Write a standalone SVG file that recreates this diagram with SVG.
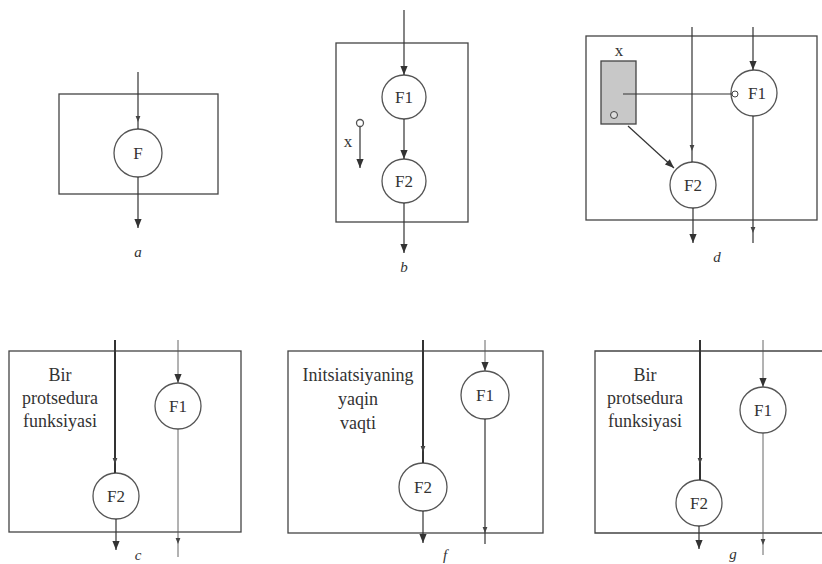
<svg xmlns="http://www.w3.org/2000/svg" width="822" height="564" viewBox="0 0 822 564">
<defs>
<marker id="big" viewBox="0 0 10 10" refX="10" refY="5" markerWidth="11" markerHeight="9" markerUnits="userSpaceOnUse" orient="auto"><path d="M0,1 L10,5 L0,9 Z" fill="#333"/></marker>
<marker id="sm" viewBox="0 0 10 10" refX="10" refY="5" markerWidth="6" markerHeight="6" markerUnits="userSpaceOnUse" orient="auto"><path d="M0,1 L10,5 L0,9 Z" fill="#444"/></marker>
</defs>
<style>
.box{fill:none;stroke:#444;stroke-width:1.3}
.nd{fill:#fff;stroke:#555;stroke-width:1.3}
.ln{fill:none;stroke:#333;stroke-width:1.2}
.thk{fill:none;stroke:#333;stroke-width:2}
.thin{fill:none;stroke:#555;stroke-width:0.9}
.t{font-family:'Liberation Serif','Times New Roman','DejaVu Serif',serif;font-size:18px;fill:#333;text-anchor:middle}
.f{font-family:'Liberation Serif','Times New Roman','DejaVu Serif',serif;font-size:17px;fill:#333;text-anchor:middle}
.lbl{font-family:'Liberation Serif','Times New Roman','DejaVu Serif',serif;font-size:15px;font-style:italic;fill:#333;text-anchor:middle}
.big{marker-end:url(#big)}
.sme{marker-end:url(#sm)}
.smm{marker-mid:url(#sm)}
</style>
<rect width="822" height="564" fill="#fff"/>

<g id="panel-a">
<rect class="box" x="59" y="94" width="159" height="100"/>
<g id="a-F"><circle class="nd" cx="138" cy="153" r="24"/><text class="f" x="138" y="159" font-size="18">F</text></g>
<text class="lbl" x="138" y="257">a</text>
</g>

<g id="panel-b">
<rect class="box" x="336" y="43" width="132" height="179"/>
<g id="b-F1"><circle class="nd" cx="404" cy="97" r="22"/><text class="f" x="404" y="103">F1</text></g>
<g id="b-F2"><circle class="nd" cx="404" cy="181" r="22"/><text class="f" x="404" y="187">F2</text></g>
<g id="b-x"><circle class="nd" cx="360" cy="123" r="3.5"/><text class="f" x="348" y="147">x</text></g>
<text class="lbl" x="404" y="272">b</text>
</g>

<g id="panel-d">
<rect class="box" x="586" y="36" width="231" height="184"/>
<g id="d-x"><rect x="601" y="61" width="35" height="63" fill="#c8c8c8" stroke="#444" stroke-width="1.3"/><circle cx="614" cy="115" r="3.5" fill="#ddd" stroke="#444" stroke-width="1"/><text class="f" x="619" y="56">x</text></g>
<g id="d-F1"><circle class="nd" cx="754" cy="93" r="23"/><text class="f" x="757" y="99">F1</text><circle cx="735" cy="94" r="3" fill="#fff" stroke="#444" stroke-width="1"/></g>
<g id="d-F2"><circle class="nd" cx="693" cy="185" r="23"/><text class="f" x="693" y="191">F2</text></g>
<text class="lbl" x="717" y="262">d</text>
</g>

<g id="panel-c">
<rect class="box" x="9" y="351" width="232" height="181"/>
<text class="t" x="60" y="381">Bir</text>
<text class="t" x="60" y="404">protsedura</text>
<text class="t" x="60" y="427">funksiyasi</text>
<g id="c-F1"><circle class="nd" cx="178" cy="406" r="23"/><text class="f" x="178" y="412">F1</text></g>
<g id="c-F2"><circle class="nd" cx="116" cy="496" r="23"/><text class="f" x="116" y="502">F2</text></g>
<text class="lbl" x="138" y="560">c</text>
</g>

<g id="panel-f">
<rect class="box" x="288" y="351" width="255" height="182"/>
<text class="t" x="358" y="381">Initsiatsiyaning</text>
<text class="t" x="358" y="405">yaqin</text>
<text class="t" x="358" y="429">vaqti</text>
<g id="f-F1"><circle class="nd" cx="485" cy="395" r="24"/><text class="f" x="485" y="401">F1</text></g>
<g id="f-F2"><circle class="nd" cx="423" cy="487" r="24"/><text class="f" x="423" y="493">F2</text></g>
<text class="lbl" x="445" y="560">f</text>
</g>

<g id="panel-g">
<path class="box" d="M822,351 H595 V533 H822"/>
<text class="t" x="645" y="381">Bir</text>
<text class="t" x="645" y="404">protsedura</text>
<text class="t" x="645" y="427">funksiyasi</text>
<g id="g-F1"><circle class="nd" cx="763" cy="410" r="23"/><text class="f" x="763" y="416">F1</text></g>
<g id="g-F2"><circle class="nd" cx="699" cy="503" r="23"/><text class="f" x="699" y="509">F2</text></g>
<text class="lbl" x="733" y="559">g</text>
</g>

<g id="connectors">
<line class="ln sme" x1="138" y1="72" x2="138" y2="122"/>
<line class="ln" x1="138" y1="122" x2="138" y2="129"/>
<line class="ln big" x1="138" y1="177" x2="138" y2="228"/>
<line class="ln big" x1="404" y1="10" x2="404" y2="75"/>
<line class="ln big" x1="404" y1="119" x2="404" y2="159"/>
<line class="ln big" x1="404" y1="203" x2="404" y2="253"/>
<line class="ln big" x1="360" y1="127" x2="360" y2="168"/>
<path class="ln smm" d="M692,27 L692,151 L692,162"/>
<line class="ln big" x1="753" y1="27" x2="753" y2="70"/>
<line class="ln" x1="623" y1="94" x2="732" y2="94"/>
<line class="ln big" x1="628" y1="126" x2="674" y2="168"/>
<line class="ln big" x1="693" y1="208" x2="693" y2="243"/>
<path class="ln smm" d="M753,116 L753,233 L753,243"/>
<path class="thk smm" d="M115,340 L115,464 L115,473"/>
<line class="thin big" x1="178" y1="340" x2="178" y2="383"/>
<line class="ln big" x1="116" y1="519" x2="116" y2="550"/>
<path class="thin smm" d="M178,429 L178,544 L178,557"/>
<path class="thk smm" d="M423,340 L423,452 L423,463"/>
<line class="thin big" x1="485" y1="340" x2="485" y2="371"/>
<line class="ln big" x1="423" y1="511" x2="423" y2="543"/>
<path class="ln smm" d="M485,419 L485,533 L485,544"/>
<path class="thk smm" d="M700,340 L700,464 L700,480"/>
<line class="thin big" x1="763" y1="340" x2="763" y2="387"/>
<line class="ln big" x1="699" y1="526" x2="699" y2="549"/>
<path class="thin smm" d="M763,433 L763,545 L763,555"/>
</g>
</svg>
